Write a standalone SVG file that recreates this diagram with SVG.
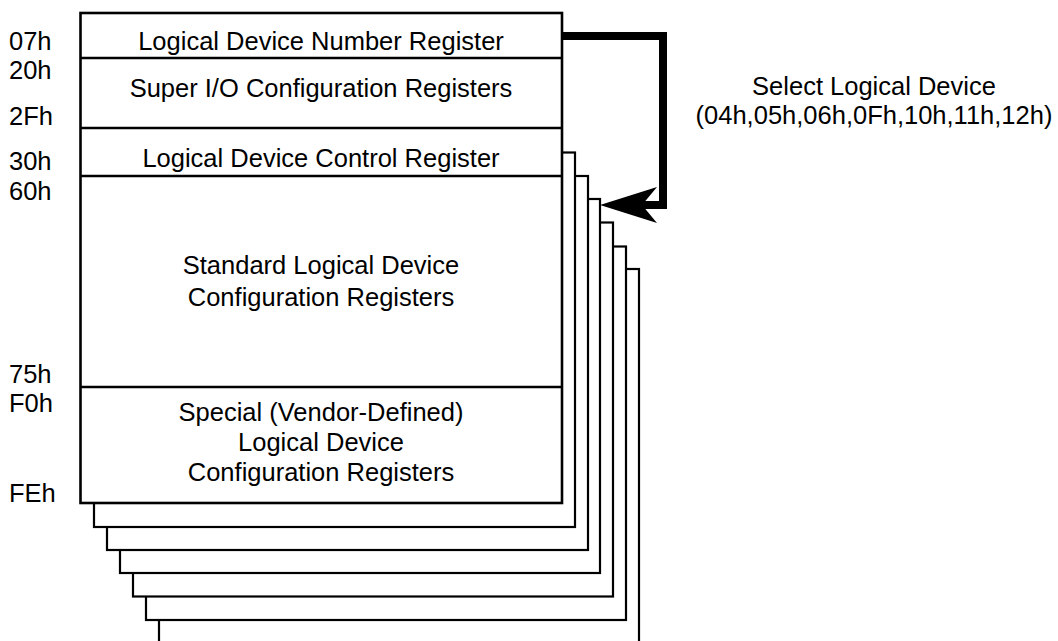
<svg xmlns="http://www.w3.org/2000/svg" width="1058" height="641" viewBox="0 0 1058 641">
<style>
text{font-family:"Liberation Sans",Arial,sans-serif;font-size:25.5px;fill:#000}
.c{text-anchor:middle}
.page{fill:#fff;stroke:#000;stroke-width:2.2}
.main{fill:#fff;stroke:#000;stroke-width:2.6}
.div{stroke:#000;stroke-width:2.6;fill:none}
</style>
<defs>
<marker id="ah" markerUnits="userSpaceOnUse" viewBox="0 0 60 40" refX="0" refY="20" markerWidth="60" markerHeight="40" orient="auto-start-reverse">
<path d="M0,20 L57,2 L42,20 L57,38 Z" fill="#000"/>
</marker>
</defs>
<rect width="1058" height="641" fill="#fff"/>
<g id="pages">
<rect class="page" x="159" y="269" width="480" height="380"/>
<rect class="page" x="146" y="246.5" width="480" height="373.5"/>
<rect class="page" x="133" y="222.5" width="480" height="374"/>
<rect class="page" x="120" y="199" width="480" height="374"/>
<rect class="page" x="107" y="176" width="481" height="374"/>
<rect class="page" x="94" y="152.5" width="481" height="374.5"/>
</g>
<g id="register-map">
<rect class="main" x="80.5" y="13" width="481.5" height="490"/>
<line class="div" x1="80.5" y1="58" x2="562" y2="58"/>
<line class="div" x1="80.5" y1="128" x2="562" y2="128"/>
<line class="div" x1="80.5" y1="176" x2="562" y2="176"/>
<line class="div" x1="80.5" y1="387" x2="562" y2="387"/>
</g>
<g id="ldn-register"><text class="c" x="321" y="50">Logical Device Number Register</text></g>
<g id="superio-registers"><text class="c" x="321" y="97">Super I/O Configuration Registers</text></g>
<g id="control-register"><text class="c" x="321" y="167">Logical Device Control Register</text></g>
<g id="standard-registers"><text class="c" x="321" y="274">Standard Logical Device</text><text class="c" x="321" y="306">Configuration Registers</text></g>
<g id="special-registers"><text class="c" x="321" y="421">Special (Vendor-Defined)</text><text class="c" x="321" y="451">Logical Device</text><text class="c" x="321" y="481">Configuration Registers</text></g>
<g id="addresses">
<text x="9" y="50">07h</text>
<text x="9" y="79">20h</text>
<text x="9" y="125">2Fh</text>
<text x="9" y="170">30h</text>
<text x="9" y="200">60h</text>
<text x="9" y="383">75h</text>
<text x="9" y="412">F0h</text>
<text x="9" y="502">FEh</text>
</g>
<g id="select-label"><text class="c" x="874" y="95">Select Logical Device</text><text class="c" x="874" y="124">(04h,05h,06h,0Fh,10h,11h,12h)</text></g>
<g id="connectors">
<polyline points="562,36 663,36 663,205 640,205" fill="none" stroke="#000" stroke-width="8" stroke-linejoin="miter"/>
<path d="M600,205 L657,187 L642,205 L657,223 Z" fill="#000"/>
</g>
</svg>
